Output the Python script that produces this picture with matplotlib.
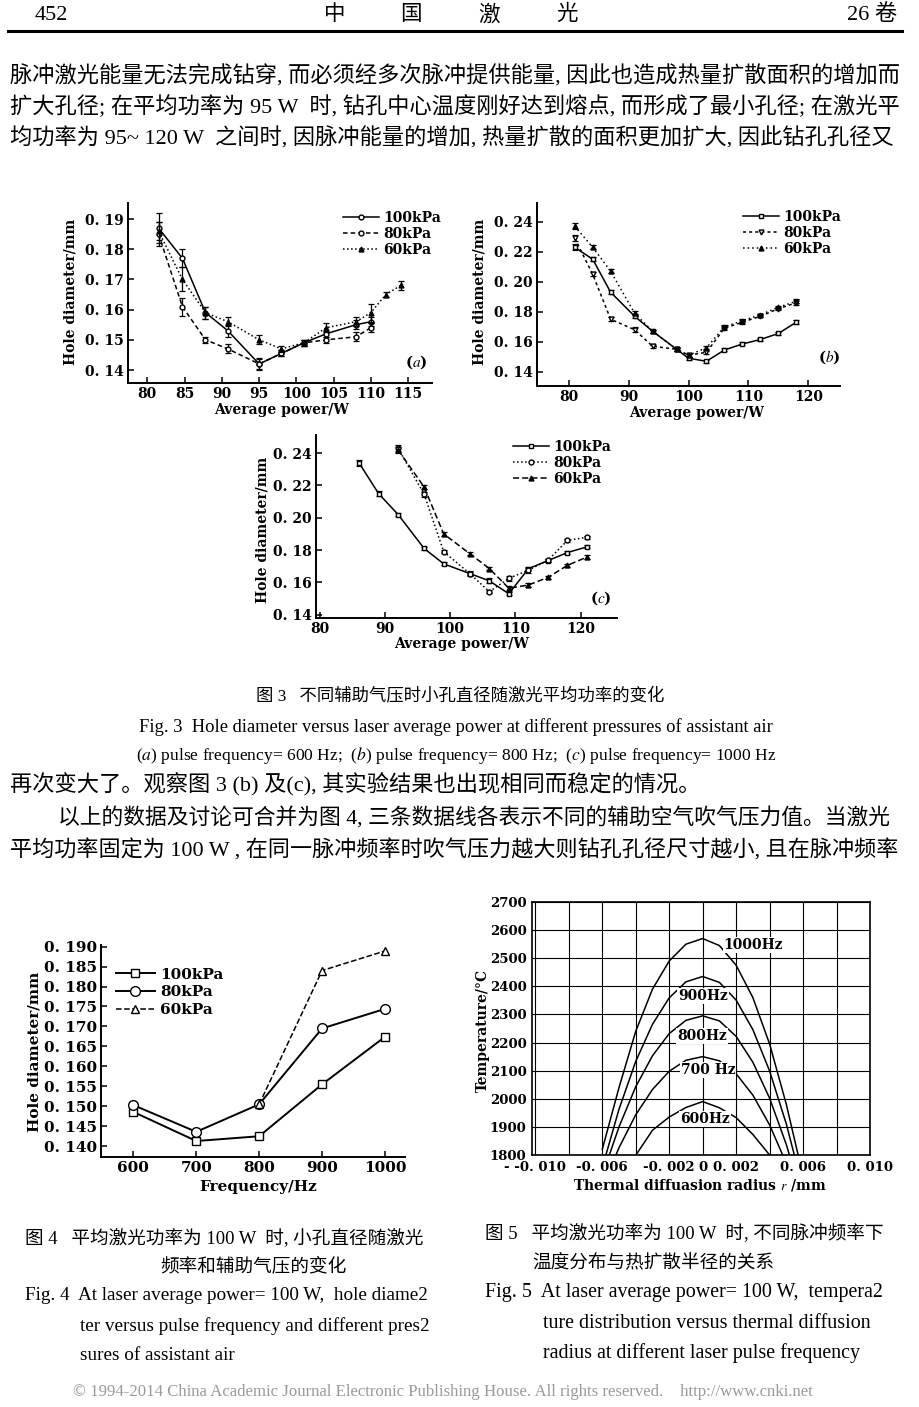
import numpy as np
import matplotlib
matplotlib.use("Agg")
import matplotlib.pyplot as plt
from matplotlib.lines import Line2D

# ── Page size (px) ────────────────────────────────────────────────────────────
W, H = 920, 1407

# ── Fig 3(a): 600 Hz ──────────────────────────────────────────────────────────
a_x = [81.5, 84.7, 87.8, 90.8, 95, 98, 101, 104, 108, 110]
a_100 = [0.187, 0.177, 0.159, 0.153, 0.142, 0.1455, 0.149, 0.152, 0.155, 0.156]
a_100_err = [0.005, 0.003, 0.002, 0.002, 0.002, 0.001, 0.001, 0.001, 0.0015, 0.0015]
a_80 = [0.185, 0.161, 0.150, 0.147, 0.142, 0.1455, 0.149, 0.150, 0.151, 0.154]
a_80_err = [0.004, 0.003, 0.001, 0.0015, 0.0015, 0.001, 0.001, 0.001, 0.0015, 0.0015]
a_x60 = [81.5, 84.7, 87.8, 90.8, 95, 98, 101, 104, 108, 110, 112, 114]
a_60 = [0.186, 0.170, 0.159, 0.156, 0.150, 0.147, 0.149, 0.154, 0.156, 0.159, 0.165, 0.168]
a_60_err = [0.003, 0.004, 0.002, 0.0015, 0.0015, 0.001, 0.001, 0.0015, 0.0015, 0.003, 0.0008, 0.0015]

# ── Fig 3(b): 800 Hz ──────────────────────────────────────────────────────────
b_x = [81, 84, 87, 91, 94, 98, 100, 103, 106, 109, 112, 115, 118]
b_100 = [0.223, 0.215, 0.193, 0.177, 0.167, 0.155, 0.149, 0.147, 0.1545, 0.1585, 0.1615, 0.1655, 0.173]
b_80 = [0.229, 0.205, 0.175, 0.168, 0.157, 0.155, 0.151, 0.153, 0.169, 0.173, 0.177, 0.182, 0.186]
b_60 = [0.237, 0.223, 0.207, 0.179, 0.167, 0.155, 0.151, 0.156, 0.170, 0.174, 0.178, 0.183, 0.187]
b_err = [0.002, 0.0015, 0.0015, 0.0015, 0.001, 0.001, 0.001, 0.001, 0.001, 0.001, 0.0008, 0.0008, 0.0015]

# ── Fig 3(c): 1000 Hz ─────────────────────────────────────────────────────────
c_x100 = [86, 89, 92, 96, 99, 103, 106, 109, 112, 115, 118, 121]
c_100 = [0.234, 0.215, 0.202, 0.181, 0.1715, 0.1655, 0.161, 0.153, 0.1685, 0.1735, 0.1785, 0.182]
c_x = [92, 96, 99, 103, 106, 109, 112, 115, 118, 121]
c_80 = [0.243, 0.2145, 0.179, 0.1655, 0.1543, 0.1625, 0.1676, 0.1737, 0.186, 0.188]
c_60 = [0.242, 0.219, 0.190, 0.1778, 0.1686, 0.1564, 0.1584, 0.1631, 0.1706, 0.1757]
c_err = [0.002, 0.0015, 0.001, 0.001, 0.001, 0.0015, 0.0015, 0.001, 0.001, 0.001, 0.001, 0.001]

# ── Fig 4: hole diameter vs frequency ─────────────────────────────────────────
f4_x = [600, 700, 800, 900, 1000]
f4_100 = [0.1486, 0.1413, 0.1425, 0.1555, 0.1674]
f4_80 = [0.1503, 0.1436, 0.1505, 0.1695, 0.1744]
f4_x60 = [800, 900, 1000]
f4_60 = [0.1505, 0.1840, 0.1889]

# ── Fig 5: temperature vs radius ──────────────────────────────────────────────
r_mm = [-0.006, -0.005, -0.004, -0.003, -0.002, -0.001, 0.0,
        0.001, 0.002, 0.003, 0.004, 0.005, 0.006]
t_1000 = [1820, 2040, 2240, 2390, 2490, 2550, 2570, 2545, 2475, 2360, 2195, 1980, 1725]
t_900 = [1755, 1963, 2133, 2265, 2359, 2416, 2435, 2414, 2351, 2246, 2099, 1910, 1680]
t_800 = [1727, 1900, 2043, 2153, 2232, 2279, 2295, 2277, 2222, 2130, 2002, 1837, 1635]
t_700 = [1684, 1826, 1943, 2033, 2098, 2137, 2150, 2135, 2089, 2013, 1907, 1770, 1603]
t_600 = [1600, 1697, 1799, 1888, 1935, 1969, 1990, 1968, 1933, 1873, 1800, 1683, 1580]
freq_labels = ["1000Hz", "900Hz", "800Hz", "700 Hz", "600Hz"]

plt.rcParams["mathtext.fontset"] = "stix"
fig = plt.figure(figsize=(W / 100, H / 100), dpi=100)

BODY = ["Liberation Serif", "Noto Sans CJK SC"]


def fx(x):
    return x / W


def fy(y):
    return 1 - y / H


def box(l, t, r, b):
    return [l / W, 1 - b / H, (r - l) / W, (b - t) / H]


def put(x, y, s, size=16, ha="left", family=BODY, **kw):
    fig.text(fx(x), fy(y), s, fontsize=size, ha=ha, va="center", family=family, **kw)


def chart_text(x, y, s, size=10, **kw):
    put(x, y, s, size=size, family="DejaVu Serif", weight="bold", **kw)


def style_axes(ax, xlim, ylim, xt, xl, yt, yl, size=10):
    ax.set_xlim(*xlim)
    ax.set_ylim(*ylim)
    ax.set_xticks(xt, labels=xl)
    ax.set_yticks(yt, labels=yl)
    for s in ("top", "right"):
        ax.spines[s].set_visible(False)
    for s in ("left", "bottom"):
        ax.spines[s].set_linewidth(1.4)
    ax.tick_params(direction="in", length=4, width=1.1, labelsize=size, pad=3)
    for lab in ax.get_xticklabels() + ax.get_yticklabels():
        lab.set_fontfamily("DejaVu Serif")
        lab.set_fontweight("bold")
    ax.patch.set_alpha(0)


def series(ax, x, y, err, ls, marker, mfc, label, ms=4):
    if err is not None:
        ax.errorbar(x, y, yerr=err[:len(x)], fmt="none", ecolor="k",
                    elinewidth=0.9, capsize=2.5, capthick=0.9)
    ax.plot(x, y, ls=ls, marker=marker, color="k", mfc=mfc, mec="k",
            ms=ms, lw=1.1, label=label)


def legend(ax, x, y, size=10, spacing=0.15):
    ax.legend(loc="upper left", bbox_to_anchor=(fx(x), fy(y)),
              bbox_transform=fig.transFigure, frameon=False, borderpad=0,
              handlelength=2.6, handletextpad=0.3, labelspacing=spacing,
              prop=dict(family="DejaVu Serif", weight="bold", size=size))


def yfmt(vals, nd=2):
    return [("%.*f" % (nd, v)).replace(".", ". ") for v in vals]


# ── Header + body text ────────────────────────────────────────────────────────
put(35, 15, "452", size=16)
for ch, x in zip("中国激光", [335, 411, 489, 567]):
    put(x, 15, ch, size=15.5, ha="center")
put(897, 15, "26 卷", size=16, ha="right")
fig.add_artist(Line2D([fx(8), fx(902)], [fy(31), fy(31)], lw=2.2, color="k"))

put(10, 76, "脉冲激光能量无法完成钻穿, 而必须经多次脉冲提供能量, 因此也造成热量扩散面积的增加而")
put(10, 107, "扩大孔径; 在平均功率为 95 W  时, 钻孔中心温度刚好达到熔点, 而形成了最小孔径; 在激光平")
put(10, 138, "均功率为 95~ 120 W  之间时, 因脉冲能量的增加, 热量扩散的面积更加扩大, 因此钻孔孔径又")

put(460, 697, "图 3   不同辅助气压时小孔直径随激光平均功率的变化", size=12.5, ha="center")
put(456, 727, "Fig. 3  Hole diameter versus laser average power at different pressures of assistant air",
    size=13.3, ha="center")
put(456, 755, r"($a$) pulse frequency= 600 Hz;  ($b$) pulse frequency= 800 Hz;  ($c$) pulse frequency= 1000 Hz",
    size=12.6, ha="center")
put(10, 784, "再次变大了。观察图 3 (b) 及(c), 其实验结果也出现相同而稳定的情况。")
put(58, 819, "以上的数据及讨论可合并为图 4, 三条数据线各表示不同的辅助空气吹气压力值。当激光", size=15.7)
put(10, 850, "平均功率固定为 100 W , 在同一脉冲频率时吹气压力越大则钻孔孔径尺寸越小, 且在脉冲频率", size=15.9)

put(25, 1239, "图 4   平均激光功率为 100 W  时, 小孔直径随激光", size=13.4)
put(160, 1266, "频率和辅助气压的变化", size=13.4)
put(25, 1296, "Fig. 4  At laser average power= 100 W,  hole diame2", size=13.8)
put(80, 1326, "ter versus pulse frequency and different pres2", size=13.8)
put(80, 1355, "sures of assistant air", size=13.8)

put(485, 1233, "图 5   平均激光功率为 100 W  时, 不同脉冲频率下", size=13.4)
put(532, 1262, "温度分布与热扩散半径的关系", size=13.4)
put(485, 1293, "Fig. 5  At laser average power= 100 W,  tempera2", size=14.4)
put(543, 1323, "ture distribution versus thermal diffusion", size=14.4)
put(543, 1353, "radius at different laser pulse frequency", size=14.4)

put(73, 1392, "© 1994-2014 China Academic Journal Electronic Publishing House. All rights reserved.    http://www.cnki.net",
    size=12.1, color="#9a9a9a")

# ── Fig 3(a) ──────────────────────────────────────────────────────────────────
ax = fig.add_axes(box(128, 203, 432, 383))
series(ax, a_x, a_100, a_100_err, "-", "o", "white", "100kPa", ms=3.5)
series(ax, a_x, a_80, a_80_err, (0, (3, 2)), "o", "white", "80kPa", ms=3.5)
series(ax, a_x60, a_60, a_60_err, ":", "^", "k", "60kPa", ms=3.5)
yt = [0.14, 0.15, 0.16, 0.17, 0.18, 0.19]
style_axes(ax, (77.4, 118.2), (0.1357, 0.1953),
           [80, 85, 90, 95, 100, 105, 110, 115], ["80", "85", "90", "95", "100", "105", "110", "115"],
           yt, yfmt(yt))
legend(ax, 336, 204)
chart_text(405, 362, r"($a$)", size=11)
chart_text(282, 410, "Average power/W", ha="center")
chart_text(71, 292, "Hole diameter/mm", rotation=90, ha="center")

# ── Fig 3(b) ──────────────────────────────────────────────────────────────────
ax = fig.add_axes(box(537, 203, 840, 386))
series(ax, b_x, b_100, b_err, "-", "s", "white", "100kPa", ms=3.5)
series(ax, b_x, b_80, b_err, (0, (2, 2)), "v", "white", "80kPa", ms=3.5)
series(ax, b_x, b_60, b_err, (0, (1, 2)), "^", "k", "60kPa", ms=3.5)
yt = [0.14, 0.16, 0.18, 0.20, 0.22, 0.24]
style_axes(ax, (74.7, 125.3), (0.1305, 0.2525),
           [80, 90, 100, 110, 120], ["80", "90", "100", "110", "120"], yt, yfmt(yt))
legend(ax, 736, 203)
chart_text(818, 357, r"($b$)", size=11)
chart_text(697, 413, "Average power/W", ha="center")
chart_text(480, 292, "Hole diameter/mm", rotation=90, ha="center")

# ── Fig 3(c) ──────────────────────────────────────────────────────────────────
ax = fig.add_axes(box(316, 435, 617, 618))
series(ax, c_x100, c_100, c_err, "-", "s", "white", "100kPa", ms=3.5)
series(ax, c_x, c_80, c_err, ":", "o", "white", "80kPa", ms=3.5)
series(ax, c_x, c_60, c_err, (0, (4, 2)), "^", "k", "60kPa", ms=3.5)
yt = [0.14, 0.16, 0.18, 0.20, 0.22, 0.24]
style_axes(ax, (79.4, 125.6), (0.138, 0.2512),
           [80, 90, 100, 110, 120], ["80", "90", "100", "110", "120"], yt, yfmt(yt))
legend(ax, 506, 433)
chart_text(590, 598, r"($c$)", size=11)
chart_text(462, 644, "Average power/W", ha="center")
chart_text(262, 530, "Hole diameter/mm", rotation=90, ha="center")

# ── Fig 4 ─────────────────────────────────────────────────────────────────────
ax = fig.add_axes(box(101, 945, 405, 1157))
ax.plot(f4_x, f4_100, "-", marker="s", color="k", mfc="white", ms=6, lw=1.4, label="100kPa")
ax.plot(f4_x, f4_80, "-", marker="o", color="k", mfc="white", ms=7, lw=1.4, label="80kPa")
ax.plot(f4_x60, f4_60, "--", marker="^", color="k", mfc="white", ms=6, lw=1.1, label="60kPa")
yt = [0.140, 0.145, 0.150, 0.155, 0.160, 0.165, 0.170, 0.175, 0.180, 0.185, 0.190]
style_axes(ax, (548.6, 1031.8), (0.1373, 0.1904),
           f4_x, [str(v) for v in f4_x], yt, yfmt(yt, 3), size=11)
legend(ax, 108, 960, size=11, spacing=0.25)
chart_text(258, 1187, "Frequency/Hz", size=11, ha="center")
chart_text(35, 1052, "Hole diameter/mm", size=11, rotation=90, ha="center")

# ── Fig 5 ─────────────────────────────────────────────────────────────────────
ax = fig.add_axes(box(532, 902, 870, 1155))
for t in [t_1000, t_900, t_800, t_700, t_600]:
    ax.plot(r_mm, t, color="k", lw=1.1)
xt = [-0.010, -0.008, -0.006, -0.004, -0.002, 0.0, 0.002, 0.004, 0.006, 0.008, 0.010]
xl = ["- -0. 010", "", "-0. 006", "", "-0. 002", "0", "0. 002", "", "0. 006", "", "0. 010"]
yt = [1800, 1900, 2000, 2100, 2200, 2300, 2400, 2500, 2600, 2700]
ax.set_xlim(-0.0102, 0.0100)
ax.set_ylim(1800, 2700)
ax.set_xticks(xt, labels=xl)
ax.set_yticks(yt, labels=[str(v) for v in yt])
ax.grid(True, color="k", lw=0.8)
ax.tick_params(length=0, labelsize=9.5, pad=4)
for lab in ax.get_xticklabels() + ax.get_yticklabels():
    lab.set_fontfamily("DejaVu Serif")
    lab.set_fontweight("bold")
for s in ax.spines.values():
    s.set_linewidth(1.2)
for lab, (x, y) in zip(freq_labels, [(753, 945), (703, 996), (702, 1036), (708, 1070), (705, 1119)]):
    chart_text(x, y, lab, size=10, ha="center",
               bbox=dict(facecolor="white", edgecolor="none", pad=0.5))
chart_text(700, 1185, r"Thermal diffuasion radius $r$ /mm", size=10, ha="center")
chart_text(483, 1030, "Temperature/°C", size=10, rotation=90, ha="center")

fig.savefig("out.png", dpi=100)
